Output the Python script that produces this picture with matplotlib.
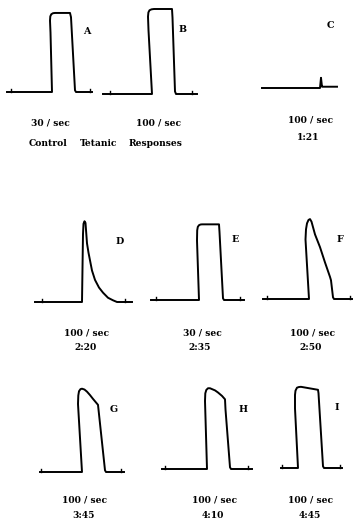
import matplotlib
matplotlib.use("Agg")
import matplotlib.pyplot as plt

# ---- data: tension traces (time units, tension % of control) ----
A_t = [0, 45, 43.5, 43, 43.3, 44.3, 46, 48, 63, 64, 68, 69, 85]
A_y = [0, 0, 70, 84, 89, 91.5, 92.7, 93, 93, 88, 2, 0, 0]
B_t = [0, 49, 45.5, 45, 45.4, 46.5, 48.5, 51, 69, 69.5, 72, 73, 94]
B_y = [0, 0, 75, 91, 96, 98.5, 99.6, 100, 100, 90, 3, 0, 0]
C_t = [0, 58, 58.5, 59, 60, 61, 75]
C_y = [0, 0, 6, 12, 1.5, 1.5, 1.5]
D_t = [0, 47, 48, 48.5, 49.5, 50.5, 51, 52, 53.5, 55, 57, 60, 64, 68, 73, 78, 82, 97]
D_y = [0, 0, 80, 92, 95, 93, 85, 69, 58, 49, 37, 26, 17, 11, 5, 2, 0, 0]
E_t = [0, 48, 46, 46.2, 46.8, 48, 49.5, 51, 68, 68.5, 72, 73, 93]
E_y = [0, 0, 70, 82, 86, 88, 88.8, 89, 89, 80, 2, 0, 0]
F_t = [0, 46, 42.5, 43, 44, 45.5, 47, 48.5, 52, 57, 62, 67, 68, 70, 71, 89]
F_y = [0, 0, 70, 82, 89, 93, 94, 91, 76, 61, 43, 26, 22, 2, 0, 0]
G_t = [0, 42, 38, 38.3, 39, 40.5, 42, 44.5, 47, 50, 53, 58, 65, 66, 84]
G_y = [0, 0, 80, 90, 95, 97.5, 98, 97, 94.5, 90.5, 86, 79, 2, 0, 0]
H_t = [0, 45, 43, 43.3, 44.3, 46, 48, 50, 53, 56, 60, 63, 63.5, 68, 69, 90]
H_y = [0, 0, 80, 89, 93, 95, 95, 94, 92.5, 90, 86, 82, 70, 2, 0, 0]
I_t = [0, 17, 14, 14, 14.5, 16, 18, 20, 37, 37.5, 42, 43, 61]
I_y = [0, 0, 70, 86, 91, 94.5, 95.3, 95.5, 92, 88, 2, 0, 0]

panel_letters = ["A", "B", "C", "D", "E", "F", "G", "H", "I"]
rates = ["30 / sec", "100 / sec", "100 / sec", "100 / sec", "30 / sec",
         "100 / sec", "100 / sec", "100 / sec", "100 / sec"]
times = ["", "", "1:21", "2:20", "2:35", "2:50", "3:45", "4:10", "4:45"]
tick_marks = [(4, 83), (7, 89), (), (7, 90), (5, 89), (4, 87), (1, 81), (3, 86), (1, 59)]
traces = [(A_t, A_y), (B_t, B_y), (C_t, C_y), (D_t, D_y), (E_t, E_y),
          (F_t, F_y), (G_t, G_y), (H_t, H_y), (I_t, I_y)]

# ---- layout (pixels) ----
W, H = 353, 520
fig = plt.figure(figsize=(W / 100, H / 100), dpi=100)
fig.patch.set_facecolor("white")

origins = [(7, 92), (103, 94), (262, 88), (35, 302), (151, 300), (263, 299),
           (40, 472), (162, 469), (281, 468)]
letter_pos = [(87, 31), (183, 29), (330, 25), (120, 242), (235, 240), (340, 240),
              (114, 410), (243, 410), (337, 407)]
rate_pos = [(50, 123), (158, 123), (310, 120), (87, 333), (202, 333), (312, 333),
            (84, 500), (214, 500), (311, 500)]
time_pos = [None, None, (308, 137), (86, 348), (200, 348), (311, 348),
            (84, 515), (213, 515), (310, 515)]

FONT = dict(family="DejaVu Serif", fontweight="bold", color="black")
AX_W, AX_H = 100, 85  # px for 100 units

for i, (t, y) in enumerate(traces):
    x0, yb = origins[i]
    ax = fig.add_axes([x0 / W, (H - yb) / H, AX_W / W, AX_H / H])
    ax.set_xlim(0, 100)
    ax.set_ylim(0, 100)
    ax.axis("off")
    ax.patch.set_alpha(0)
    ax.plot(t, y, color="black", lw=1.4, clip_on=False, solid_joinstyle="round")
    for tk in tick_marks[i]:
        ax.plot([tk, tk], [0, 4], color="black", lw=1.0, clip_on=False)
    lx, ly = letter_pos[i]
    fig.text(lx / W, 1 - ly / H, panel_letters[i], ha="center", va="center",
             fontsize=6.8, **FONT)
    rx, ry = rate_pos[i]
    fig.text(rx / W, 1 - ry / H, rates[i], ha="center", va="center",
             fontsize=6.6, **FONT)
    if time_pos[i] is not None:
        tx, ty = time_pos[i]
        fig.text(tx / W, 1 - ty / H, times[i], ha="center", va="center",
                 fontsize=6.6, **FONT)

for word, cx in [("Control", 48), ("Tetanic", 99), ("Responses", 156)]:
    fig.text(cx / W, 1 - 144 / H, word, ha="center", va="center",
             fontsize=6.6, **FONT)

fig.savefig("out.png", dpi=100, facecolor="white")
